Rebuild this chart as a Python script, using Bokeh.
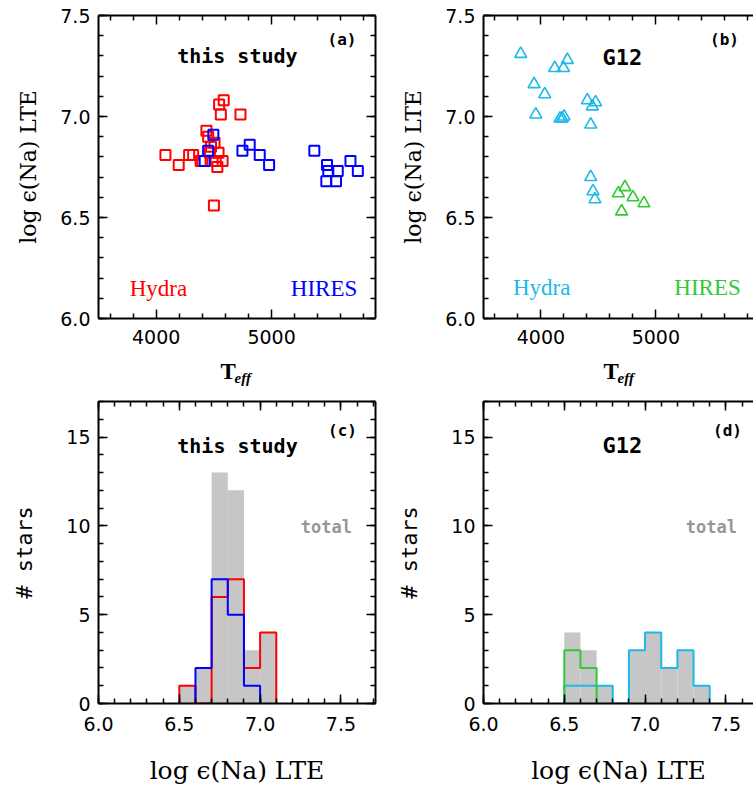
import numpy as np
from bokeh.plotting import figure
from bokeh.layouts import column, row
from bokeh.models import (FixedTicker, LinearAxis, Label, Range1d,
                          CustomLabelingPolicy, NumeralTickFormatter)
from bokeh.embed import file_html
from bokeh.resources import INLINE

# ---------------- data ----------------
# panel (a): this study
a_hydra_teff = [4080, 4195, 4285, 4320, 4385, 4400, 4435, 4450, 4465, 4475,
                4500, 4505, 4515, 4530, 4540, 4545, 4560, 4585, 4575, 4730]
a_hydra_na = [6.81, 6.76, 6.81, 6.81, 6.78, 6.78, 6.93, 6.90, 6.82, 6.85,
              6.56, 6.87, 6.78, 6.75, 6.82, 7.06, 7.01, 7.08, 6.78, 7.01]
a_hires_teff = [4420, 4450, 4495, 4747, 4810, 4897, 4978, 5370, 5480, 5491,
                5474, 5573, 5558, 5683, 5747]
a_hires_na = [6.78, 6.83, 6.91, 6.83, 6.86, 6.81, 6.76, 6.83, 6.76, 6.73,
              6.68, 6.73, 6.68, 6.78, 6.73]
# panel (b): G12
b_hydra_teff = [3824, 3940, 4033, 3955, 4120, 4196, 4230, 4166, 4185, 4201,
                4404, 4447, 4476, 4433, 4433, 4453, 4470]
b_hydra_na = [7.31, 7.16, 7.11, 7.01, 7.24, 7.24, 7.28, 6.99, 6.99, 7.00,
              7.08, 7.05, 7.07, 6.96, 6.70, 6.63, 6.59]
b_hires_teff = [4674, 4731, 4801, 4702, 4896]
b_hires_na = [6.62, 6.65, 6.60, 6.53, 6.57]

# histograms (bin width 0.1)
c_edges = [6.5, 6.6, 6.7, 6.8, 6.9, 7.0, 7.1]
c_total = [1, 2, 13, 12, 3, 4]
c_hydra = [1, 0, 6, 7, 2, 4]
c_hires = [0, 2, 7, 5, 1, 0]
d_edges = [6.5, 6.6, 6.7, 6.8, 6.9, 7.0, 7.1, 7.2, 7.3, 7.4]
d_total = [4, 3, 1, 0, 3, 4, 2, 3, 1]
d_hydra = [1, 1, 1, 0, 3, 4, 2, 3, 1]
d_hires = [3, 2, 0, 0, 0, 0, 0, 0, 0]

teff_major = [4000, 5000]
teff_minor = [3600, 3800, 4200, 4400, 4600, 4800, 5200, 5400, 5600, 5800]
na_major = [6.0, 6.5, 7.0, 7.5]
na_minor = [round(6.0 + 0.1 * i, 1) for i in range(18)]
cnt_major = [0, 5, 10, 15]
cnt_minor = list(range(0, 18))

RED, BLUE = "#ff0000", "#0000ff"
CYAN, GREEN = "#1cb9ea", "#33c933"
GRAY_FILL, GRAY_TXT = "#c6c6c6", "#979797"
YLAB = "log \u03f5(Na) LTE"
MONO = "DejaVu Sans Mono"

NO_LABELS = CustomLabelingPolicy(code="return new Set()")


def style_axis(ax, major, minor, labels=True, fmt=None):
    ax.ticker = FixedTicker(ticks=major, minor_ticks=minor)
    ax.axis_line_width = 2
    ax.axis_line_color = "black"
    ax.major_tick_in = 9
    ax.major_tick_out = 0
    ax.minor_tick_in = 5
    ax.minor_tick_out = 0
    ax.major_tick_line_width = 1.5
    ax.minor_tick_line_width = 1.5
    ax.major_tick_line_color = "black"
    ax.minor_tick_line_color = "black"
    if fmt is not None:
        ax.formatter = NumeralTickFormatter(format=fmt)
    if labels:
        ax.major_label_text_font = "DejaVu Sans"
        ax.major_label_text_font_size = "19px"
        ax.major_label_text_color = "black"
    else:
        ax.major_label_policy = NO_LABELS
        ax.major_label_text_font_size = "1px"
        ax.major_label_standoff = 0
        ax.axis_label = None


def make_fig(xr, yr, fw, fh, xmaj, xmin, ymaj, ymin, right_axis, border,
             xfmt=None, yfmt=None):
    p = figure(x_range=Range1d(*xr), y_range=Range1d(*yr),
               frame_width=fw, frame_height=fh,
               output_backend="svg", toolbar_location=None,
               x_axis_type=None, y_axis_type=None,
               min_border_left=border[0], min_border_right=border[1],
               min_border_top=border[2], min_border_bottom=border[3])
    p.outline_line_color = None
    p.background_fill_color = "white"
    p.border_fill_color = "white"
    bottom = LinearAxis()
    style_axis(bottom, xmaj, xmin, fmt=xfmt)
    p.add_layout(bottom, "below")
    left = LinearAxis()
    style_axis(left, ymaj, ymin, fmt=yfmt)
    left.major_label_standoff = 8
    p.add_layout(left, "left")
    top = LinearAxis()
    style_axis(top, xmaj, xmin, labels=False)
    p.add_layout(top, "above")
    if right_axis:
        rgt = LinearAxis()
        style_axis(rgt, ymaj, ymin, labels=False)
        p.add_layout(rgt, "right")
    return p, bottom, left


def txt(p, x, y, s, color="black", font=MONO, size="20px", style="bold",
        align="center", baseline="middle"):
    p.add_layout(Label(x=x, y=y, text=s, text_color=color, text_font=font,
                       text_font_size=size, text_font_style=style,
                       text_align=align, text_baseline=baseline))


def step_path(edges, counts):
    c = np.asarray(counts)
    nz = np.nonzero(c)[0]
    i0, i1 = nz[0], nz[-1]
    xs, ys = [edges[i0]], [0]
    for i in range(i0, i1 + 1):
        xs += [edges[i], edges[i + 1]]
        ys += [c[i], c[i]]
    xs.append(edges[i1 + 1])
    ys.append(0)
    return xs, ys


def set_label(ax, text, font, size, standoff):
    ax.axis_label = text
    ax.axis_label_text_font = font
    ax.axis_label_text_font_size = size
    ax.axis_label_text_font_style = "normal"
    ax.axis_label_text_color = "black"
    ax.axis_label_standoff = standoff


# ---------------- panel (a) ----------------
pa, xa, ya = make_fig((3500, 5900), (6.0, 7.5), 277, 303, teff_major, teff_minor,
                      na_major, na_minor, True, (98, 10, 15, 36), yfmt="0.0")
xa.major_label_standoff = 11
set_label(ya, YLAB, "DejaVu Serif", "22px", 16)
pa.scatter(a_hydra_teff, a_hydra_na, marker="square", size=10, fill_color=None,
           line_color=RED, line_width=2)
pa.scatter(a_hires_teff, a_hires_na, marker="square", size=10, fill_color=None,
           line_color=BLUE, line_width=2)
txt(pa, 4703, 7.30, "this study", size="20px")
txt(pa, 5610, 7.38, "(a)", size="16px")
txt(pa, 4019, 6.15, "Hydra", color=RED, font="Liberation Serif", size="23px", style="normal")
txt(pa, 5454, 6.15, "HIRES", color=BLUE, font="Liberation Serif", size="23px", style="normal")

# ---------------- panel (b) ----------------
pb, xb, yb = make_fig((3500, 5850), (6.0, 7.5), 270, 303, teff_major, teff_minor,
                      na_major, na_minor, False, (98, 0, 15, 36), yfmt="0.0")
xb.major_label_standoff = 11
set_label(yb, YLAB, "DejaVu Serif", "22px", 16)
pb.scatter(b_hydra_teff, b_hydra_na, marker="triangle", size=12, fill_color=None,
           line_color=CYAN, line_width=1.6)
pb.scatter(b_hires_teff, b_hires_na, marker="triangle", size=12, fill_color=None,
           line_color=GREEN, line_width=1.6)
txt(pb, 4709, 7.29, "G12", size="22px")
txt(pb, 5598, 7.38, "(b)", size="16px")
txt(pb, 4007, 6.155, "Hydra", color=CYAN, font="Liberation Serif", size="23px", style="normal")
txt(pb, 5450, 6.155, "HIRES", color=GREEN, font="Liberation Serif", size="23px", style="normal")


# ---------------- T_eff axis titles (a strip between the rows) ----------------
def teff_strip(w, t_left):
    p = figure(width=w, height=32, x_range=Range1d(0, w), y_range=Range1d(0, 32),
               output_backend="svg", toolbar_location=None, min_border=0,
               x_axis_type=None, y_axis_type=None)
    p.outline_line_color = None
    p.border_fill_color = "white"
    txt(p, t_left, 15, "T", font="Liberation Serif", size="23px", style="bold",
        align="left", baseline="alphabetic")
    txt(p, t_left + 14, 9, "eff", font="Liberation Serif", size="15px",
        style="bold italic", align="left", baseline="alphabetic")
    return p


ta = teff_strip(385, 220)
tb = teff_strip(368, 218)


# ---------------- histograms ----------------
def hist_panel(xr, edges, total, first, second, c1, c2, right_axis, border, title,
               tsize, tag):
    p, xax, yax = make_fig(xr, (0, 17), int(round((xr[1] - xr[0]) * 161.6)), 302,
                           na_major, na_minor, cnt_major, cnt_minor, right_axis,
                           border, xfmt="0.0")
    xax.major_label_standoff = 13
    set_label(xax, YLAB, "DejaVu Serif", "25px", 22)
    set_label(yax, "# stars", MONO, "22px", 26)
    p.quad(left=edges[:-1], right=edges[1:], bottom=0, top=total,
           fill_color=GRAY_FILL, line_color=None)
    for cnt, col in ((first, c1), (second, c2)):
        xs, ys = step_path(edges, cnt)
        p.line(xs, ys, line_color=col, line_width=2)
    txt(p, 6.86, 14.5, title, size=tsize)
    txt(p, 7.51, 15.34, tag, size="16px")
    txt(p, 7.41, 9.95, "total", color=GRAY_TXT, size="17px")
    return p


pc = hist_panel((6.0, 7.714), c_edges, c_total, c_hydra, c_hires, RED, BLUE,
                True, (98, 10, 15, 83), "this study", "20px", "(c)")
pd = hist_panel((6.0, 7.671), d_edges, d_total, d_hydra, d_hires, CYAN, GREEN,
                False, (98, 0, 15, 83), "G12", "22px", "(d)")

layout = column(row(pa, pb), row(ta, tb), row(pc, pd))
open("out.html", "w").write(file_html(layout, INLINE))
